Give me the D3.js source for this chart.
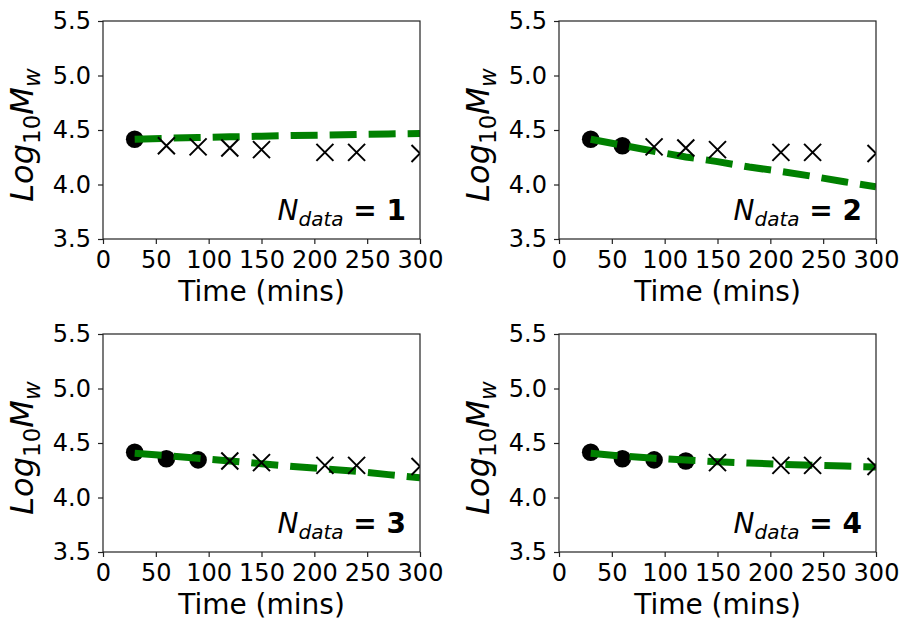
<!DOCTYPE html>
<html>
<head>
<meta charset="utf-8">
<script src="https://cdn.jsdelivr.net/npm/d3@7"></script>
<style>
  body { margin: 0; background: #fff; }
  svg text { font-family: "DejaVu Sans", sans-serif; fill: #000; }
</style>
</head>
<body>
<div id="chart"></div>
<script>
// measured points (same in every panel)
const times = [30, 60, 90, 120, 150, 210, 240, 300];
const logMw = [4.415, 4.355, 4.345, 4.335, 4.32, 4.295, 4.295, 4.285];

// number of points used for each fit
const nData = [1, 2, 3, 4];

// fitted curves
const fitTimes = [30, 60, 90, 120, 150, 180, 210, 240, 270, 300];
const fit1 = [4.415, 4.424, 4.431, 4.437, 4.443, 4.449, 4.454, 4.459, 4.464, 4.468];
const fit2 = [4.415, 4.36, 4.305, 4.253, 4.21, 4.16, 4.12, 4.075, 4.025, 3.98];
const fit3 = [4.405, 4.385, 4.36, 4.335, 4.31, 4.285, 4.262, 4.24, 4.21, 4.18];
const fit4 = [4.405, 4.38, 4.36, 4.343, 4.328, 4.316, 4.305, 4.296, 4.288, 4.28];
const fits = [fit1, fit2, fit3, fit4];

const xTicks = [0, 50, 100, 150, 200, 250, 300];
const yTicks = [3.5, 4.0, 4.5, 5.0, 5.5];

const W = 904, H = 621;
const pw = 317, ph = 218;
const origins = [[103, 21], [559, 21], [103, 334], [559, 334]];

const svg = d3.select("#chart").append("svg")
  .attr("width", W).attr("height", H);

const x = d3.scaleLinear().domain([0, 300]).range([0, pw]);
const y = d3.scaleLinear().domain([3.5, 5.5]).range([ph, 0]);

svg.append("defs").append("clipPath").attr("id", "plotclip")
  .append("rect").attr("width", pw).attr("height", ph);

nData.forEach(function(n, i) {
  let g = svg.append("g")
    .attr("transform", "translate(" + origins[i][0] + "," + origins[i][1] + ")");

  let plot = g.append("g").attr("clip-path", "url(#plotclip)");

  // points used in the fit
  plot.selectAll("circle")
    .data(times.slice(0, n)).enter()
    .append("circle")
      .attr("cx", function(d) { return x(d); })
      .attr("cy", function(d, j) { return y(logMw[j]); })
      .attr("r", 8.8)
      .attr("fill", "#000");

  // fitted curve
  let line = d3.line()
    .x(function(d) { return x(d); })
    .y(function(d, j) { return y(fits[i][j]); });
  plot.append("path")
    .datum(fitTimes)
    .attr("d", line)
    .attr("fill", "none")
    .attr("stroke", "#008000")
    .attr("stroke-width", 7)
    .attr("stroke-dasharray", "27 12");

  // remaining points as crosses
  let rest = times.map(function(t, j) { return {t: t, v: logMw[j]}; }).slice(n);
  let s = 8.5;
  plot.selectAll("path.cross")
    .data(rest).enter()
    .append("path")
      .attr("class", "cross")
      .attr("d", function(d) {
        let cx = x(d.t), cy = y(d.v);
        return "M" + (cx - s) + "," + (cy - s) + "L" + (cx + s) + "," + (cy + s) +
               "M" + (cx - s) + "," + (cy + s) + "L" + (cx + s) + "," + (cy - s);
      })
      .attr("stroke", "#000")
      .attr("stroke-width", 2)
      .attr("fill", "none");

  // frame
  g.append("rect")
    .attr("width", pw).attr("height", ph)
    .attr("fill", "none").attr("stroke", "#222").attr("stroke-width", 1.2);

  let xAxis = g.append("g")
    .attr("transform", "translate(0," + ph + ")")
    .call(d3.axisBottom(x).tickValues(xTicks).tickSize(5).tickPadding(7).tickFormat(d3.format("d")));
  let yAxis = g.append("g")
    .call(d3.axisLeft(y).tickValues(yTicks).tickSize(5).tickPadding(7).tickFormat(d3.format(".1f")));
  [xAxis, yAxis].forEach(function(a) {
    a.select(".domain").remove();
    a.selectAll("line").attr("stroke", "#222").attr("stroke-width", 1.2);
    a.selectAll("text").style("font-size", "24px").attr("fill", "#000");
  });

  // axis titles
  g.append("text")
    .attr("x", pw / 2).attr("y", ph + 62)
    .attr("text-anchor", "middle")
    .style("font-size", "28px")
    .text("Time (mins)");

  let yl = g.append("text")
    .attr("transform", "translate(-70," + (ph / 2 + 5) + ") rotate(-90)")
    .attr("text-anchor", "middle")
    .style("font-size", "32px");
  yl.append("tspan").style("font-style", "italic").text("Log");
  yl.append("tspan").attr("dy", 7).style("font-size", "23px").text("10");
  yl.append("tspan").attr("dy", -7).style("font-style", "italic").text("M");
  yl.append("tspan").attr("dy", 7).style("font-style", "italic").style("font-size", "23px").text("w");

  // annotation
  let ann = g.append("text")
    .attr("x", pw - 14).attr("y", ph - 19)
    .attr("text-anchor", "end")
    .style("font-size", "28px");
  ann.append("tspan").style("font-style", "italic").text("N");
  ann.append("tspan").attr("dy", 6).style("font-style", "italic").style("font-size", "20px").text("data");
  ann.append("tspan").attr("dy", -6).style("font-weight", "bold").text("\u00a0= " + n);
});
</script>
</body>
</html>
